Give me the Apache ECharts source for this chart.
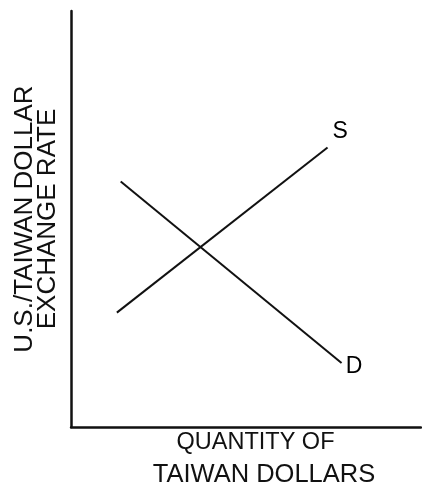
<!DOCTYPE html>
<html>
<head>
<meta charset="utf-8">
<script src="https://cdn.jsdelivr.net/npm/echarts@6/dist/echarts.min.js"></script>
<style>html,body{margin:0;padding:0;background:#fff;}#c{width:422px;height:491px;}</style>
</head>
<body>
<div id="c"></div>
<script>
// Data (arbitrary units: 0..100 on both axes)
var supplyX = [13.1, 73.3];
var supplyY = [27.5, 67.2];
var demandX = [14.2, 77.3];
var demandY = [59.0, 15.4];
var curveLabels = ['S', 'D'];
var labelX = [76.9, 80.9];
var labelY = [71.0, 14.4];
var xTitleLines = ['QUANTITY OF', 'TAIWAN DOLLARS'];
var yTitle = 'U.S./TAIWAN DOLLAR\nEXCHANGE RATE';

function pairs(xs, ys) { return xs.map(function (x, i) { return [x, ys[i]]; }); }

var chart = echarts.init(document.getElementById('c'), null, { renderer: 'canvas' });
var font = '"Liberation Sans", Arial, Helvetica, sans-serif';
chart.setOption({
  animation: false,
  backgroundColor: '#fff',
  grid: { left: 71, top: 11, right: 1, bottom: 64, outerBoundsMode: 'none' },
  xAxis: {
    type: 'value', min: 0, max: 100,
    axisLine: { show: true, onZero: false, lineStyle: { color: '#111', width: 2.5 } },
    axisTick: { show: false }, axisLabel: { show: false }, splitLine: { show: false },
    name: '{a|' + xTitleLines[0] + '}\n{b|' + xTitleLines[1] + '}', nameLocation: 'middle', nameGap: 0,
    nameTextStyle: {
      fontFamily: font, fontSize: 23, lineHeight: 32, color: '#111', padding: [0, 0, 0, 19],
      rich: {
        a: { fontFamily: font, fontSize: 23.5, lineHeight: 32, color: '#111' },
        b: { fontFamily: font, fontSize: 25.5, lineHeight: 32, color: '#111', padding: [0, 0, 0, 17] }
      }
    }
  },
  yAxis: {
    type: 'value', min: 0, max: 100,
    axisLine: { show: true, onZero: false, lineStyle: { color: '#111', width: 2.5 } },
    axisTick: { show: false }, axisLabel: { show: false }, splitLine: { show: false },
    name: yTitle, nameLocation: 'middle', nameGap: 12, nameRotate: 90,
    nameTextStyle: { fontFamily: font, fontSize: 26, lineHeight: 23, color: '#111' }
  },
  series: [
    { name: 'S', type: 'line', data: pairs(supplyX, supplyY), symbol: 'none',
      lineStyle: { color: '#111', width: 2 } },
    { name: 'D', type: 'line', data: pairs(demandX, demandY), symbol: 'none',
      lineStyle: { color: '#111', width: 2 } },
    { type: 'scatter', symbolSize: 1, itemStyle: { color: 'rgba(0,0,0,0)' },
      data: labelX.map(function (x, i) { return { value: [x, labelY[i]], name: curveLabels[i] }; }),
      label: { show: true, position: 'inside', formatter: '{b}', fontFamily: font, fontSize: 23,
        color: '#000', opacity: 1, textBorderWidth: 0, align: 'center', verticalAlign: 'middle' } }
  ]
});
</script>
</body>
</html>
